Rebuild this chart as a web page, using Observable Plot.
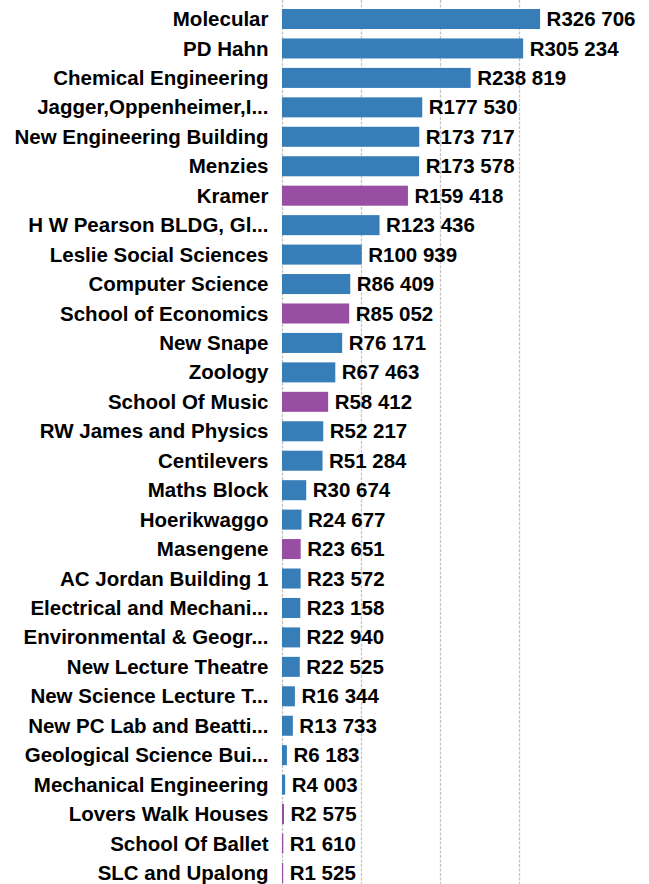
<!DOCTYPE html>
<html>
<head>
<meta charset="utf-8">
<script src="https://cdn.jsdelivr.net/npm/d3@7"></script>
<script src="https://cdn.jsdelivr.net/npm/@observablehq/plot@0.6"></script>
<style>
  html, body { margin: 0; padding: 0; background: #fff; }
  #chart svg { display: block; }
</style>
</head>
<body>
<div id="chart"></div>
<script>
const buildings = [
  "Molecular", "PD Hahn", "Chemical Engineering", "Jagger,Oppenheimer,I...",
  "New Engineering Building", "Menzies", "Kramer", "H W Pearson BLDG, Gl...",
  "Leslie Social Sciences", "Computer Science", "School of Economics", "New Snape",
  "Zoology", "School Of Music", "RW James and Physics", "Centilevers",
  "Maths Block", "Hoerikwaggo", "Masengene", "AC Jordan Building 1",
  "Electrical and Mechani...", "Environmental & Geogr...", "New Lecture Theatre",
  "New Science Lecture T...", "New PC Lab and Beatti...", "Geological Science Bui...",
  "Mechanical Engineering", "Lovers Walk Houses", "School Of Ballet", "SLC and Upalong"
];
const costs = [
  326706, 305234, 238819, 177530,
  173717, 173578, 159418, 123436,
  100939, 86409, 85052, 76171,
  67463, 58412, 52217, 51284,
  30674, 24677, 23651, 23572,
  23158, 22940, 22525,
  16344, 13733, 6183,
  4003, 2575, 1610, 1525
];
const groups = [
  "A", "A", "A", "A",
  "A", "A", "B", "A",
  "A", "A", "B", "A",
  "A", "B", "A", "A",
  "A", "A", "B", "A",
  "A", "A", "A",
  "A", "A", "A",
  "A", "B", "B", "B"
];
const gridTicks = [0, 100000, 200000, 300000];

const data = buildings.map((name, i) => ({name, cost: costs[i], group: groups[i]}));
const fmt = v => "R" + d3.format(",")(v).replace(/,/g, " ");

const chart = Plot.plot({
  width: 649,
  height: 884,
  marginLeft: 282,
  marginRight: 51,
  marginTop: 0,
  marginBottom: 0,
  style: {fontFamily: "'Liberation Sans', Arial, sans-serif", color: "#000", background: "#fff"},
  x: {domain: [0, 400000], axis: null},
  y: {domain: buildings, paddingInner: 0.32, paddingOuter: 0, round: false, insetTop: 9, insetBottom: 1, axis: null, label: null},
  color: {domain: ["A", "B"], range: ["#377eb8", "#984ea3"]},
  marks: [
    Plot.ruleX(gridTicks, {stroke: "#c4c4c4", strokeWidth: 1.3, strokeDasharray: "3,1.5"}),
    Plot.barX(data, {x: "cost", y: "name", fill: "group"}),
    Plot.text(data, {x: "cost", y: "name", text: d => fmt(d.cost), textAnchor: "start", dx: 6,
      fontSize: 20.5, fontWeight: "bold", fill: "#000"}),
    Plot.axisY({tickSize: 0, tickPadding: 14, fontSize: 20.5, fontWeight: "bold", fill: "#000", label: null})
  ]
});
document.getElementById("chart").appendChild(chart);
</script>
</body>
</html>
